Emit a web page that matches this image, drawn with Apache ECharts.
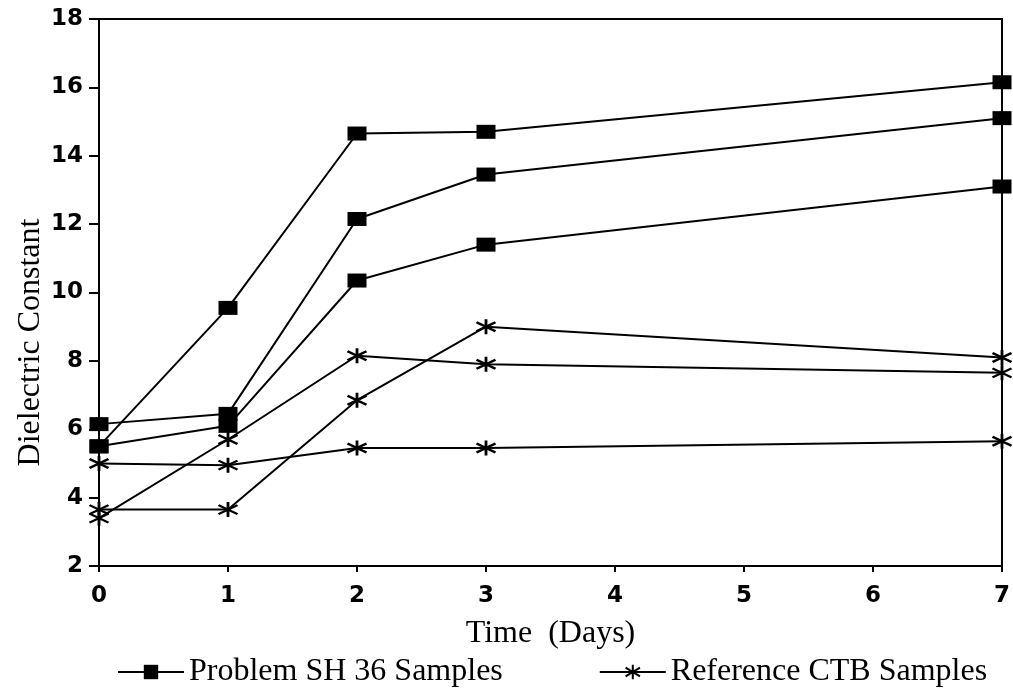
<!DOCTYPE html>
<html>
<head>
<meta charset="utf-8">
<script src="https://cdn.jsdelivr.net/npm/echarts@6/dist/echarts.min.js"></script>
<style>
  html, body { margin: 0; padding: 0; background: #fff; }
  #chart { width: 1013px; height: 690px; }
</style>
</head>
<body>
<div id="chart"></div>
<script>
var days = [0, 1, 2, 3, 7];
var dayTicks = [0, 1, 2, 3, 4, 5, 6, 7];

// Problem SH 36 samples (square markers)
var sh36A = [5.5, 9.55, 14.65, 14.7, 16.15];
var sh36B = [6.15, 6.45, 12.15, 13.45, 15.1];
var sh36C = [5.5, 6.1, 10.35, 11.4, 13.1];

// Reference CTB samples (asterisk markers)
var ctbA = [5.0, 4.95, 5.45, 5.45, 5.65];
var ctbB = [3.4, 5.7, 8.15, 7.9, 7.65];
var ctbC = [3.65, 3.65, 6.85, 9.0, 8.1];

var nameSH = 'Problem SH 36 Samples';
var nameCTB = 'Reference CTB Samples';

var serif = '"Liberation Serif", "Times New Roman", serif';
var sans = '"DejaVu Sans", sans-serif';
var star = 'path://M5,0L5,10M0,2L10,8M0,8L10,2';

function pairs(vals) {
  return days.map(function(d, i) { return [d, vals[i]]; });
}

function squareSeries(vals) {
  return {
    name: nameSH,
    type: 'line',
    data: pairs(vals),
    symbol: 'rect',
    symbolSize: [19, 14],
    itemStyle: { color: '#000' },
    lineStyle: { color: '#000', width: 2 }
  };
}

function starSeries(vals) {
  return {
    name: nameCTB,
    type: 'line',
    data: pairs(vals),
    symbol: star,
    symbolSize: [19, 15],
    itemStyle: { color: '#000', borderColor: '#000', borderWidth: 2.5 },
    lineStyle: { color: '#000', width: 2 }
  };
}

var chart = echarts.init(document.getElementById('chart'), null, { renderer: 'canvas' });
chart.setOption({
  animation: false,
  backgroundColor: '#fff',
  grid: {
    left: 99, right: 8, top: 19, bottom: 124,
    show: true, borderColor: '#000', borderWidth: 2, backgroundColor: 'transparent'
  },
  legend: {
    data: [nameSH, nameCTB],
    left: 112,
    top: 651,
    itemWidth: 66,
    itemHeight: 18,
    itemGap: 96,
    textStyle: { color: '#000', fontFamily: serif, fontSize: 32 }
  },
  xAxis: {
    type: 'value',
    min: 0,
    max: 7,
    interval: 1,
    name: 'Time  (Days)',
    nameLocation: 'middle',
    nameGap: 52,
    nameTextStyle: { color: '#000', fontFamily: serif, fontSize: 32 },
    axisLine: { lineStyle: { color: '#000', width: 2 } },
    axisTick: { show: true, length: 6, lineStyle: { color: '#000', width: 2 } },
    axisLabel: {
      color: '#000', fontFamily: sans, fontWeight: 'bold', fontSize: 23, margin: 19,
      formatter: function(v) { return dayTicks.indexOf(v) >= 0 ? String(v) : ''; }
    },
    splitLine: { show: false }
  },
  yAxis: {
    type: 'value',
    min: 2,
    max: 18,
    interval: 2,
    name: 'Dielectric Constant',
    nameLocation: 'middle',
    nameGap: 52,
    nameMoveOverlap: false,
    nameTextStyle: { color: '#000', fontFamily: serif, fontSize: 32, padding: [0, 100, 0, 0] },
    axisLine: { lineStyle: { color: '#000', width: 2 } },
    axisTick: { show: true, length: 10, lineStyle: { color: '#000', width: 2 } },
    axisLabel: { color: '#000', fontFamily: sans, fontWeight: 'bold', fontSize: 23, margin: 16 },
    splitLine: { show: false }
  },
  series: [
    squareSeries(sh36A),
    squareSeries(sh36B),
    squareSeries(sh36C),
    starSeries(ctbA),
    starSeries(ctbB),
    starSeries(ctbC)
  ]
});
window.addEventListener('resize', function() { chart.resize(); });
</script>
</body>
</html>
